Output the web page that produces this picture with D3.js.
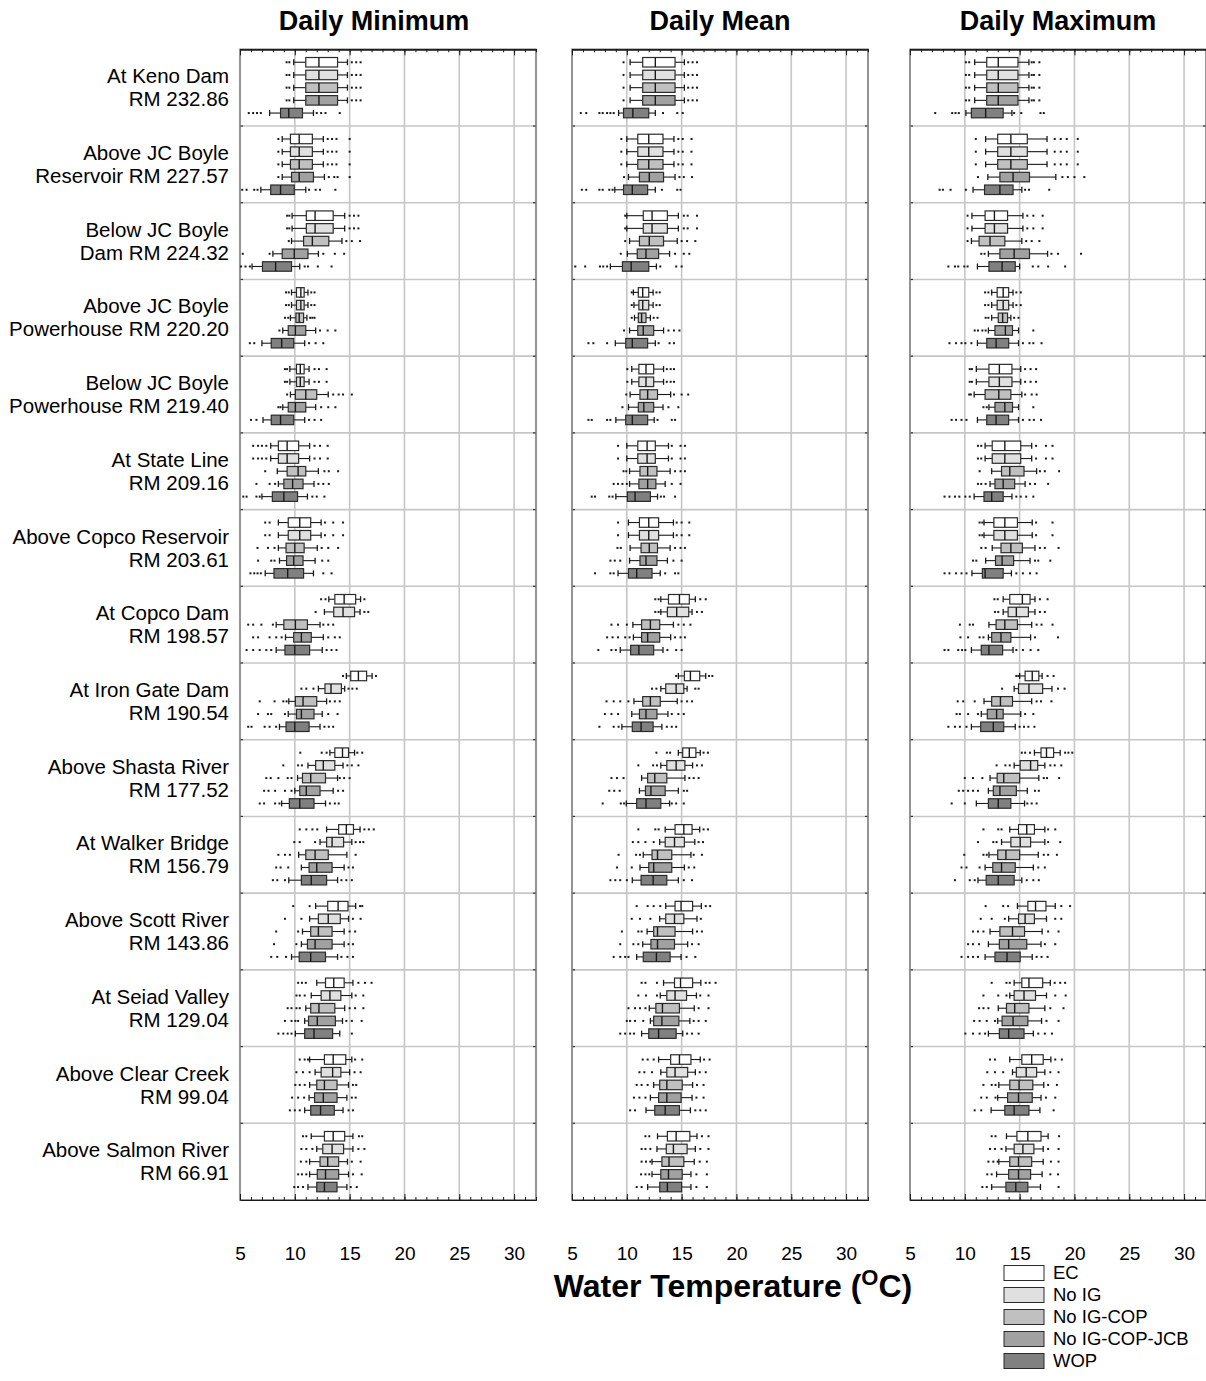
<!DOCTYPE html>
<html>
<head>
<meta charset="utf-8">
<script src="https://cdn.jsdelivr.net/npm/d3@7"></script>
<style>
  body { margin: 0; background: #fff; }
  text { font-family: "Liberation Sans", Arial, sans-serif; fill: #000; }
</style>
</head>
<body>
<svg id="chart" width="1206" height="1381"></svg>
<script>
// Stations (upstream to downstream), two label lines each
const stations = [
  ["At Keno Dam", "RM 232.86"],
  ["Above JC Boyle", "Reservoir RM 227.57"],
  ["Below JC Boyle", "Dam RM 224.32"],
  ["Above JC Boyle", "Powerhouse RM 220.20"],
  ["Below JC Boyle", "Powerhouse RM 219.40"],
  ["At State Line", "RM 209.16"],
  ["Above Copco Reservoir", "RM 203.61"],
  ["At Copco Dam", "RM 198.57"],
  ["At Iron Gate Dam", "RM 190.54"],
  ["Above Shasta River", "RM 177.52"],
  ["At Walker Bridge", "RM 156.79"],
  ["Above Scott River", "RM 143.86"],
  ["At Seiad Valley", "RM 129.04"],
  ["Above Clear Creek", "RM 99.04"],
  ["Above Salmon River", "RM 66.91"]
];
const scenarios = ["EC", "No IG", "No IG-COP", "No IG-COP-JCB", "WOP"];
const scenarioFills = ["#ffffff", "#e0e0e0", "#c0c0c0", "#a1a1a1", "#808080"];
const panelTitles = ["Daily Minimum", "Daily Mean", "Daily Maximum"];
const xTicks = [5, 10, 15, 20, 25, 30];
const xDomain = [5, 32];

// Each box: [lower whisker, Q1, median, Q3, upper whisker, [low outliers], [high outliers]]  (deg C)
const dailyMin = [
  [[9.9,11.0,12.2,13.9,14.8,[9.25,9.5],[15.2,15.6,16.0]],
   [9.9,11.0,12.2,13.9,14.8,[9.25,9.5],[15.2,15.6,16.0]],
   [9.9,11.0,12.2,13.9,14.8,[9.25,9.5],[15.2,15.6,16.0]],
   [9.9,11.0,12.2,13.9,14.8,[9.25,9.5],[15.2,15.6,16.0]],
   [7.7,8.7,9.45,10.7,11.7,[5.8,6.2,6.55,6.9],[12.0,12.4,12.8,14.1]]],
  [[8.85,9.6,10.4,11.6,12.6,[8.5],[13.0,13.4,13.8,15.0]],
   [8.85,9.6,10.4,11.6,12.6,[8.5],[13.0,13.4,13.8,15.0]],
   [8.85,9.6,10.4,11.6,12.6,[8.5],[13.0,13.4,13.8,15.0]],
   [8.85,9.7,10.4,11.7,12.7,[8.5],[13.1,13.6,13.9,15.0]],
   [6.9,7.8,8.7,9.95,11.0,[5.2,5.6,6.3,6.6],[11.3,11.9,12.3,13.7]]],
  [[9.75,11.05,11.85,13.5,14.55,[9.3,9.5],[15.0,15.4,15.8]],
   [9.75,11.05,11.85,13.5,14.55,[9.3,9.5],[15.0,15.4,15.8]],
   [9.7,10.8,11.6,13.1,14.3,[9.45],[14.7,15.2,15.95]],
   [8.0,8.85,9.95,11.2,12.15,[5.25,7.7],[12.6,13.65,14.5]],
   [6.1,7.05,8.25,9.7,10.45,[5.1,5.5,5.9],[10.9,11.2,12.1,13.35]]],
  [[9.7,10.15,10.55,10.85,11.2,[9.2,9.45],[11.5,11.8]],
   [9.7,10.15,10.55,10.85,11.2,[9.2,9.45],[11.5,11.8]],
   [9.6,10.1,10.4,10.8,11.1,[9.1,9.4],[11.4,11.6,11.8]],
   [8.9,9.4,10.05,11.0,11.9,[8.6],[12.3,13.0,13.7]],
   [7.0,7.85,8.8,9.9,10.9,[5.9,6.3],[11.3,11.9,12.6]]],
  [[9.55,10.15,10.5,10.85,11.3,[9.1,9.3],[11.8,12.2,12.9]],
   [9.55,10.15,10.5,10.85,11.3,[9.1,9.3],[11.8,12.2,12.9]],
   [9.6,10.05,11.0,12.0,13.05,[9.3],[13.5,14.0,14.4,15.2]],
   [8.9,9.4,10.05,11.0,11.9,[8.5,8.7],[12.4,13.05,13.7]],
   [7.1,7.85,8.7,9.9,10.9,[6.0,6.5],[11.3,11.8,12.4]]],
  [[7.8,8.5,9.3,10.35,11.35,[6.2,6.65,7.0,7.4],[11.8,12.3,13.0]],
   [7.8,8.5,9.3,10.35,11.35,[6.2,6.65,7.0,7.4],[11.8,12.3,13.0]],
   [8.4,9.3,10.3,11.0,12.15,[7.3],[12.7,13.1,13.95]],
   [8.5,9.0,9.8,10.75,11.75,[6.5,7.7,8.2],[12.15,12.6,13.1]],
   [7.0,7.95,9.0,10.25,11.15,[5.3,5.6,6.5,6.8],[11.6,12.0,12.7]]],
  [[8.5,9.4,10.45,11.45,12.4,[7.3,7.7],[12.75,13.5,14.4]],
   [8.5,9.4,10.45,11.45,12.4,[7.3,7.7],[12.75,13.5,14.4]],
   [8.5,9.2,10.0,10.85,12.05,[6.6,7.55,8.15],[12.45,13.05,13.95]],
   [8.6,9.25,9.9,10.75,11.85,[6.65,7.85,8.15],[12.5,13.05]],
   [7.3,8.1,9.35,10.8,11.7,[5.95,6.3,6.6,6.9],[12.6,13.35]]],
  [[13.1,13.65,14.5,15.55,16.0,[12.4,12.8],[16.35]],
   [12.7,13.55,14.4,15.45,15.95,[11.9],[16.35,16.7]],
   [8.3,9.0,10.05,11.15,12.3,[5.75,6.2,6.95,8.0],[12.6,13.05,13.5]],
   [9.15,9.9,10.6,11.5,12.6,[6.2,6.65,7.7,8.3,8.8],[13.05,13.65,14.1]],
   [8.3,9.1,10.0,11.35,12.5,[5.6,6.2,6.8,7.4,7.85],[12.9,13.35,13.8]]],
  [[14.7,15.1,15.8,16.55,17.05,[14.4],[17.4]],
   [12.15,12.75,13.3,14.25,14.55,[10.6,11.05,11.7],[14.9,15.25,15.65]],
   [9.45,10.05,10.75,12.0,12.9,[6.8,8.15,8.95,9.25],[13.2,13.65,14.1]],
   [9.4,10.15,10.6,11.75,12.5,[6.65,7.55,7.85,9.1],[13.05,13.9]],
   [8.6,9.2,10.0,11.3,12.3,[5.75,6.05,7.25,7.7,8.3],[12.7,13.1,13.5]]],
  [[13.2,13.65,14.35,14.9,15.45,[10.5,12.45,12.9],[15.7,16.15]],
   [11.2,11.9,12.6,13.65,14.4,[8.95,10.3,10.65],[14.8,15.2,15.8]],
   [10.25,10.7,11.45,12.8,13.9,[7.4,7.8,8.5,9.35,9.7],[14.1,14.5,15.0]],
   [10.0,10.45,11.05,12.3,13.5,[7.2,7.6,8.2,9.1,9.7],[13.95,14.4]],
   [8.8,9.5,10.45,11.75,12.8,[6.8,7.2,8.2,8.6],[13.2,13.65,14.0]]],
  [[12.9,14.0,14.7,15.35,15.95,[10.45,11.05,11.6,12.05],[16.35,16.75,17.2]],
   [12.3,12.9,13.4,14.45,15.2,[9.95,10.45,11.85],[15.55,15.95,16.25]],
   [10.35,11.0,11.85,13.05,14.75,[8.5,9.1,9.55],[15.55]],
   [10.6,11.3,12.0,13.4,14.5,[8.3,8.7,9.4],[14.9,15.3]],
   [9.45,10.6,11.5,12.9,13.9,[8.0,8.4,9.1],[14.25,14.7,15.2]]],
  [[11.9,13.0,13.95,14.85,15.55,[9.85,11.35],[15.95,16.15]],
   [11.35,12.15,13.05,14.15,14.9,[9.1,10.6],[15.3,16.0]],
   [10.7,11.45,12.15,13.4,14.5,[8.3,10.3],[15.0,15.5]],
   [10.6,11.15,11.85,13.4,14.5,[8.1,10.15],[14.9,15.3]],
   [9.7,10.4,11.45,12.8,13.9,[7.85,8.4,9.2],[14.25,14.8,15.3]]],
  [[12.0,12.8,13.55,14.5,15.3,[10.3,10.65,11.0],[15.8,16.4,17.0]],
   [11.5,12.4,13.2,14.2,15.2,[10.15,10.45,10.9],[15.55,16.25]],
   [11.0,11.45,12.2,13.65,14.55,[9.35,9.7,10.15,10.45],[15.0,15.5,16.25]],
   [10.9,11.25,12.05,13.7,14.35,[9.1,9.7,10.05,10.3],[14.7,15.2,16.1]],
   [10.05,10.9,11.75,13.45,14.1,[8.5,8.95,9.35,9.7],[15.2]]],
  [[11.35,12.7,13.5,14.65,15.2,[10.45,10.9,11.2],[15.5,16.15]],
   [11.85,12.4,13.45,14.2,15.0,[10.15,10.75,11.35],[15.45,16.0]],
   [11.35,12.0,12.7,13.85,14.9,[10.05,10.45,10.9],[15.3,15.6]],
   [11.3,11.8,12.6,13.85,14.75,[9.75,10.3,10.85],[15.2,15.55]],
   [10.9,11.45,12.35,13.6,14.4,[9.55,10.0,10.45],[14.9,15.3]]],
  [[11.5,12.7,13.5,14.55,15.3,[10.75,11.05],[15.85,16.15]],
   [12.0,12.55,13.4,14.45,15.3,[10.6,11.05,11.6],[15.8,16.35]],
   [11.35,12.3,13.0,14.0,14.8,[10.55,11.05],[15.2,16.0]],
   [11.35,12.05,12.8,14.0,14.9,[10.3,10.65,11.05],[15.3,16.1]],
   [11.2,12.0,12.7,13.85,14.75,[9.95,10.3,10.75],[15.1,15.65]]]
];

const dailyMean = [
  [[10.3,11.45,12.6,14.4,15.25,[9.7],[15.6,16.0,16.4]],
   [10.3,11.45,12.6,14.4,15.25,[9.7],[15.6,16.0,16.4]],
   [10.3,11.45,12.6,14.4,15.25,[9.7],[15.6,16.0,16.4]],
   [10.3,11.45,12.6,14.4,15.25,[9.7],[15.6,16.0,16.4]],
   [9.25,9.7,10.55,12.0,12.6,[5.8,6.3,7.5,7.8,8.2,8.5,8.8],[13.3,14.6,15.1]]],
  [[10.0,11.0,12.0,13.3,14.3,[9.5],[14.7,15.1,15.9]],
   [10.0,11.0,12.0,13.3,14.3,[9.5],[14.7,15.1,15.9]],
   [10.0,11.0,12.0,13.3,14.3,[9.5],[14.7,15.1,15.9]],
   [10.15,11.15,12.05,13.35,14.4,[9.75],[14.8,15.2,15.95]],
   [8.9,9.7,10.5,11.9,12.6,[5.9,6.3,7.5,7.8,8.4,8.7],[13.2,14.6,14.9]]],
  [[10.0,11.5,12.3,13.7,14.7,[9.85],[15.2,15.55,16.4]],
   [10.0,11.5,12.3,13.7,14.7,[9.85],[15.2,15.55,16.4]],
   [10.25,11.15,12.05,13.35,14.6,[9.85],[15.0,15.5,16.25]],
   [10.05,10.95,11.75,12.9,13.9,[9.45],[14.4,15.2,15.7]],
   [8.5,9.6,10.4,12.0,12.7,[5.3,6.2,7.55,7.85,8.2],[13.05,14.5,15.0]]],
  [[10.6,11.05,11.45,12.0,12.4,[10.45],[12.7,13.0]],
   [10.65,11.1,11.45,12.0,12.4,[10.45],[12.7,13.0]],
   [10.7,11.05,11.35,11.75,12.15,[10.45],[12.45,12.8]],
   [10.25,11.0,11.5,12.45,13.35,[9.75],[13.8,14.3,14.8]],
   [8.95,9.9,10.5,11.9,12.6,[6.5,6.95,8.2],[12.9,13.9,14.3]]],
  [[10.45,11.1,11.75,12.45,13.35,[10.05],[13.65,14.0,14.3]],
   [10.45,11.1,11.75,12.45,13.35,[10.05],[13.65,14.0,14.3]],
   [10.3,11.2,11.9,12.8,14.0,[9.95],[14.3,15.0,15.6]],
   [10.15,11.05,11.55,12.45,13.3,[9.6],[13.8,14.7]],
   [9.0,9.9,10.5,11.9,12.5,[6.5,6.8,8.2,8.5],[12.8,14.1,14.4]]],
  [[10.0,11.0,11.85,12.6,13.8,[9.2],[14.1,14.9,15.3]],
   [10.0,11.0,11.85,12.6,13.8,[9.2],[14.1,14.9,15.3]],
   [10.25,11.2,11.9,12.75,13.95,[9.7,9.95],[14.4,14.9,15.3]],
   [10.25,11.1,11.9,12.65,13.5,[8.8,9.2,9.6,10.0],[14.1,14.9]],
   [9.0,10.05,10.75,12.15,12.8,[6.8,7.1,8.4,8.7],[13.1,13.4,14.4]]],
  [[10.15,11.15,12.0,12.9,14.25,[9.2],[14.55,15.0,15.7]],
   [10.15,11.15,12.0,12.9,14.25,[9.2],[14.55,15.0,15.7]],
   [10.3,11.3,12.05,12.8,13.95,[9.15,9.45],[14.4,14.9,15.3]],
   [10.25,11.2,11.75,12.75,13.7,[8.5,8.9,9.4],[14.25,15.0]],
   [9.2,10.15,10.9,12.3,13.05,[7.1,8.5,8.8],[13.5,14.4,14.7]]],
  [[13.1,13.8,14.8,15.7,16.25,[12.6,12.9],[16.7,17.2]],
   [13.1,13.7,14.55,15.65,15.95,[12.6,12.9],[16.4,16.85]],
   [10.55,11.35,12.15,13.0,14.25,[8.6,9.2,10.0],[14.7,15.2,15.8]],
   [10.6,11.35,11.9,13.0,14.0,[8.2,8.7,9.2,9.85,10.25],[14.4,14.9,15.3]],
   [9.4,10.35,11.1,12.45,13.3,[7.4,8.6,9.0],[13.7,14.5,15.0]]],
  [[14.7,15.25,15.8,16.65,17.2,[14.5],[17.5,17.8]],
   [13.1,13.55,14.5,15.2,15.5,[12.3,12.7],[16.25,16.55]],
   [10.65,11.45,12.15,13.05,14.6,[8.15,8.8,9.4,10.15],[15.0,15.5,15.95]],
   [10.45,11.15,11.75,12.75,13.75,[8.0,8.6,9.2],[14.1,14.7,15.2]],
   [9.55,10.5,11.3,12.4,13.2,[7.5,8.8,9.25],[13.65,14.1,14.5]]],
  [[14.7,15.1,15.7,16.3,16.7,[12.7,13.65,13.95],[17.0,17.4]],
   [13.1,13.65,14.5,15.3,16.0,[11.05,12.4,12.75],[16.4,16.85]],
   [11.35,11.9,12.55,13.65,15.3,[8.6,9.1,9.7],[15.7,16.1,16.55]],
   [11.15,11.7,12.2,13.5,14.7,[8.4,8.85,9.35],[15.2,15.5]],
   [9.95,10.9,11.75,13.1,13.9,[7.8,9.45,9.75],[14.1,14.5,15.2]]],
  [[13.5,14.4,15.2,15.95,16.65,[11.05,12.6,12.9],[17.0,17.4]],
   [13.0,13.5,14.35,15.25,16.2,[10.55,11.05,11.7,12.45],[16.55,16.95]],
   [11.5,12.3,12.8,14.1,15.85,[9.25,10.85,11.2],[16.1,16.85]],
   [11.2,12.0,12.45,14.1,15.25,[9.1,10.45],[15.65,16.15]],
   [10.5,11.3,12.4,13.65,14.7,[8.5,8.95,9.4,10.0],[15.2,15.95]]],
  [[13.55,14.4,14.95,16.0,16.8,[10.9,11.9,12.45,13.05],[17.2,17.6]],
   [13.0,13.55,14.35,15.2,16.4,[10.45,11.2,12.15],[16.75]],
   [11.85,12.45,12.8,14.4,16.0,[9.55,11.05,11.35],[16.4,16.85]],
   [11.45,12.2,12.8,14.35,15.55,[9.4,10.6,11.05],[15.95,16.55]],
   [10.9,11.5,12.7,13.95,14.95,[8.8,9.4,9.85,10.15],[15.45,16.25]]],
  [[13.35,14.35,14.9,16.0,16.75,[11.35,11.7,12.75],[17.2,17.55,18.1]],
   [13.05,13.65,14.4,15.45,16.35,[11.05,11.75,12.75],[16.7,17.45]],
   [12.05,12.65,13.25,14.8,16.15,[10.15,10.75,11.2,11.7],[16.55,17.45]],
   [12.15,12.45,13.2,14.75,15.75,[10.0,10.3,10.75,11.5],[16.1,16.55,17.2]],
   [11.35,12.0,12.9,14.5,15.1,[9.4,9.85,10.3,10.65],[15.5,15.95,16.55]]],
  [[12.9,14.0,14.8,15.85,16.7,[11.45,11.9,12.45],[17.05,17.55]],
   [13.1,13.65,14.4,15.55,16.25,[11.15,11.6,12.3],[16.65,17.2]],
   [12.45,13.0,13.65,15.05,16.0,[10.9,11.35,11.9],[16.4,17.0]],
   [12.15,12.9,13.65,14.95,15.95,[10.65,11.15,11.7],[16.35,17.0]],
   [11.75,12.55,13.5,14.8,15.8,[10.3,10.75],[16.25,16.7,17.2]]],
  [[12.8,13.7,14.5,15.75,16.4,[11.7,12.05],[16.85,17.45]],
   [12.75,13.6,14.25,15.5,16.25,[11.35,11.7,12.15],[16.7,17.45]],
   [12.3,13.2,13.85,15.2,16.15,[11.35,11.75,12.15],[16.65,17.3]],
   [12.3,13.1,13.8,15.05,15.85,[11.3,11.7,12.05],[16.35,17.3]],
   [11.9,13.0,13.7,15.0,15.85,[10.9,11.35],[16.35,17.3]]]
];

const dailyMax = [
  [[10.9,12.0,13.05,14.85,15.85,[10.1,10.4],[16.1,16.3,16.8]],
   [10.9,12.0,13.05,14.85,15.85,[10.1,10.4],[16.1,16.3,16.8]],
   [10.9,12.0,13.05,14.85,15.85,[10.1,10.4],[16.1,16.3,16.8]],
   [10.9,12.0,13.05,14.85,15.85,[10.1,10.4],[16.1,16.3,16.8]],
   [10.1,10.6,11.9,13.5,14.3,[7.3,8.85,9.15,9.45],[14.5,15.15,16.9,17.2]]],
  [[11.9,13.0,14.2,15.7,17.5,[11.0],[18.2,18.75,19.3,20.3]],
   [11.9,13.0,14.2,15.7,17.5,[11.0],[18.2,18.75,19.3,20.3]],
   [11.9,13.0,14.2,15.7,17.5,[11.0],[18.2,18.75,19.3,20.3]],
   [12.1,13.2,14.4,15.9,18.3,[11.2],[18.9,19.4,20.0,20.9]],
   [10.75,11.8,13.2,14.4,15.2,[7.7,8.0,8.7,10.1],[15.5,15.85,17.7]]],
  [[10.65,11.85,12.7,13.9,15.3,[10.25],[15.7,16.25,17.1]],
   [10.65,11.85,12.7,13.9,15.3,[10.25],[15.7,16.25,17.1]],
   [10.6,11.3,12.3,13.65,15.2,[10.25],[15.6,16.1,16.8]],
   [12.15,13.2,14.5,15.9,17.55,[11.5,11.8],[17.9,18.5,20.6]],
   [11.15,12.2,13.4,14.6,15.0,[8.5,9.1,9.4,9.95,10.25],[16.2,16.7,17.6,19.15]]],
  [[12.45,12.95,13.5,14.0,14.4,[11.85,12.15],[14.7,15.1]],
   [12.45,12.95,13.5,14.0,14.4,[11.85,12.15],[14.7,15.1]],
   [12.45,13.05,13.45,13.9,14.2,[11.9,12.15],[14.5,14.9]],
   [12.15,12.75,13.7,14.35,14.9,[10.9,11.2,11.6,11.9],[16.25]],
   [11.15,12.0,12.85,14.0,14.9,[8.6,9.2,9.7,10.05,10.6],[15.3,15.9,16.25,17.0]]],
  [[11.05,12.2,13.15,14.3,15.1,[10.45,10.65],[15.5,16.0,16.5]],
   [11.05,12.2,13.15,14.3,15.1,[10.45,10.65],[15.5,16.0,16.5]],
   [10.85,11.85,13.1,14.2,15.2,[10.4,10.55],[15.5,16.1,16.55]],
   [12.2,12.75,13.65,14.35,14.9,[11.7,12.0],[16.25]],
   [11.15,12.0,12.85,14.0,14.9,[8.8,9.2,9.7,10.15],[15.3,15.9,16.3,16.95]]],
  [[11.85,12.5,13.65,15.1,16.1,[11.2,11.5],[16.5,17.4,18.0]],
   [11.85,12.5,13.65,15.1,16.1,[11.2,11.5],[16.5,17.4,18.0]],
   [12.45,13.35,14.1,15.4,16.55,[11.35],[16.85,17.3,18.6]],
   [12.3,12.75,13.5,14.55,15.5,[11.2,11.5,11.9],[15.95,16.4,17.6]],
   [10.85,11.75,12.45,13.5,14.3,[8.15,8.6,9.1,9.5,10.05,10.45],[14.7,15.1,15.6,16.25]]],
  [[11.75,12.65,13.65,14.8,16.15,[11.35,11.6],[16.5,18.0]],
   [11.75,12.65,13.65,14.8,16.15,[11.35,11.6],[16.5,18.0]],
   [12.5,13.3,14.2,15.25,16.4,[11.5,11.9],[16.85,17.3,18.55]],
   [11.9,12.8,13.4,14.45,15.95,[10.75,11.05],[16.4,16.7,17.8]],
   [10.65,11.6,11.85,13.5,14.25,[8.15,8.6,9.2,9.7,10.15],[14.7,15.3,15.95,16.55]]],
  [[13.5,14.1,15.25,15.95,16.4,[12.7,13.0],[16.85,17.55]],
   [13.5,13.95,14.7,15.8,16.4,[12.75,13.05],[16.85,17.3]],
   [12.2,12.85,13.65,14.8,16.1,[9.55,10.45,10.75],[16.55,17.0,18.0]],
   [12.15,12.45,13.3,14.2,16.0,[9.6,10.3,11.35,11.7],[16.4,18.5]],
   [10.6,11.5,12.2,13.45,14.4,[8.15,8.5,9.4,9.75,10.05],[14.7,15.3,16.0,16.7]]],
  [[15.0,15.5,16.15,16.75,17.05,[14.7,14.9],[17.55,18.1]],
   [14.5,14.9,15.85,17.1,17.95,[13.4],[18.5,19.1]],
   [11.75,12.45,13.25,14.35,16.1,[9.35,9.85,10.9],[16.55,16.95,17.9]],
   [11.5,12.05,12.9,13.5,15.1,[9.25,9.55,10.3,11.2],[15.5,16.25]],
   [10.6,11.45,12.6,13.55,14.6,[8.5,9.1,9.55,10.15],[15.0,15.4,15.8,16.35]]],
  [[16.35,16.95,17.45,18.1,18.7,[15.2,15.5,15.95],[19.15,19.45,19.8]],
   [14.5,15.05,16.0,16.65,17.3,[12.9,13.7,14.1],[17.8,18.2,18.8]],
   [12.3,12.95,13.55,15.0,16.75,[10.0,10.75,11.6],[17.2,17.5,18.6]],
   [12.15,12.6,13.2,14.7,15.7,[9.45,9.85,10.3,10.75,11.2],[16.4,16.75]],
   [11.05,12.15,13.05,14.2,15.45,[8.8,10.0],[15.7,16.1,16.55]]],
  [[14.1,14.9,15.65,16.35,17.3,[11.7,13.05,13.35],[17.6,18.25]],
   [13.35,14.2,15.05,16.0,17.3,[11.2,12.6,12.9],[17.6,18.7]],
   [12.2,13.0,13.75,15.0,16.7,[9.95,11.7,12.0],[17.2,17.6,18.4]],
   [11.85,12.55,13.35,14.6,16.25,[9.7,10.15,11.35],[16.7,17.3]],
   [11.2,11.95,13.05,14.5,15.2,[9.1,10.45,10.9],[15.65,16.25,16.75]]],
  [[14.8,15.75,16.45,17.4,18.25,[11.9,13.5,13.95],[18.8,19.6]],
   [14.0,14.9,15.5,16.35,17.45,[11.45,12.45,13.65],[18.25,18.8]],
   [12.3,13.2,14.35,15.45,17.05,[10.75,11.2,11.7],[17.6,18.55]],
   [12.15,13.15,14.0,15.65,16.95,[10.3,10.75,11.3],[17.3,18.25]],
   [11.85,12.75,13.85,15.05,16.15,[9.7,10.3,10.75,11.2],[16.55,17.0,17.55]]],
  [[14.5,15.2,15.85,17.1,17.8,[12.45,13.8,14.1],[18.2,18.7,19.15]],
   [14.1,14.5,15.4,16.45,17.45,[11.7,13.05,13.8],[18.25,19.2]],
   [13.05,13.8,14.55,15.85,17.3,[11.3,11.7,12.15],[17.8,19.0]],
   [13.0,13.4,14.4,15.75,17.0,[10.85,11.35,12.0,12.75],[17.45,18.55]],
   [12.15,13.15,14.0,15.4,16.25,[10.05,10.75,11.35,11.85],[16.7,17.3,17.95]]],
  [[14.1,15.2,16.1,17.15,17.85,[12.3,12.75],[18.25,18.85]],
   [14.35,14.7,15.6,16.55,17.3,[12.05,12.75,13.5],[17.8,18.55]],
   [13.1,14.1,14.95,16.2,17.2,[11.7,12.45,12.8],[17.6,18.4]],
   [13.0,13.9,14.9,16.15,16.95,[11.5,12.0,12.8],[17.4,18.25]],
   [12.4,13.65,14.5,15.85,16.85,[10.9,11.5],[18.1]]],
  [[13.8,14.75,15.75,16.95,17.6,[12.45,12.8],[18.6]],
   [13.75,14.5,15.3,16.3,17.15,[12.3,12.75,13.35],[17.6,18.55]],
   [13.1,14.1,14.9,16.1,17.15,[12.15,12.6,13.0],[17.85,18.55]],
   [12.9,14.0,14.9,16.0,17.05,[12.05,12.45],[17.8,18.5]],
   [12.45,13.75,14.65,15.75,16.9,[11.6,12.0],[18.55]]]
];

const panels = [dailyMin, dailyMean, dailyMax];

// ---- layout ----
const svg = d3.select("#chart");
const plotTop = 49.3, plotBottom = 1200;
const panelLeft = [240, 572, 910];
const panelWidth = 296;
const titleShift = [-14, 0, 0];
const boxH = 9.5, capH = 6;

const yRow = d3.scaleBand().domain(d3.range(stations.length)).range([plotTop, plotBottom]);
const yBox = d3.scalePoint().domain(d3.range(scenarios.length)).range([-25.4, 25.4]);
const rowCenter = i => yRow(i) + yRow.bandwidth() / 2;

const gridColor = "#c6c6c6";
const ink = "#1a1a1a";

panels.forEach((data, p) => {
  const L = panelLeft[p];
  const x = d3.scaleLinear().domain(xDomain).range([L, L + panelWidth]);
  const g = svg.append("g");

  // vertical grid
  g.selectAll("line.vgrid").data(xTicks.filter(t => t > xDomain[0]))
    .join("line")
    .attr("x1", d => x(d)).attr("x2", d => x(d))
    .attr("y1", plotTop).attr("y2", plotBottom)
    .attr("stroke", gridColor).attr("stroke-width", 1.6);

  // row separators
  const seps = d3.range(1, stations.length);
  g.selectAll("line.hgrid").data(seps).join("line")
    .attr("x1", L).attr("x2", L + panelWidth)
    .attr("y1", d => yRow(d)).attr("y2", d => yRow(d))
    .attr("stroke", gridColor).attr("stroke-width", 1.6);
  g.selectAll("line.lt").data(seps).join("line")
    .attr("x1", L).attr("x2", L + 3)
    .attr("y1", d => yRow(d)).attr("y2", d => yRow(d))
    .attr("stroke", "#333").attr("stroke-width", 1.2);
  g.selectAll("line.rt").data(seps).join("line")
    .attr("x1", L + panelWidth - 3).attr("x2", L + panelWidth)
    .attr("y1", d => yRow(d)).attr("y2", d => yRow(d))
    .attr("stroke", "#333").attr("stroke-width", 1.2);

  // frame
  g.append("rect")
    .attr("x", L).attr("y", plotTop)
    .attr("width", panelWidth).attr("height", plotBottom - plotTop)
    .attr("fill", "none").attr("stroke", "#7a7a7a").attr("stroke-width", 1.6);

  // top axis (inward ticks)
  const minor = d3.range(xDomain[0], xDomain[1] + 1);
  const topMinor = d3.axisBottom(x).tickValues(minor).tickSize(3).tickFormat("").tickSizeOuter(0);
  const topMajor = d3.axisBottom(x).tickValues(xTicks).tickSize(6).tickFormat("").tickSizeOuter(0);
  [topMinor, topMajor].forEach(ax => {
    const a = g.append("g").attr("transform", `translate(0,${plotTop})`).call(ax);
    a.select(".domain").attr("stroke", ink).attr("stroke-width", 1.2);
    a.selectAll(".tick line").attr("stroke", ink);
  });
  // bottom axis (inward ticks + labels)
  const botMinor = d3.axisTop(x).tickValues(minor).tickSize(3).tickFormat("").tickSizeOuter(0);
  const botMajor = d3.axisTop(x).tickValues(xTicks).tickSize(6).tickFormat("").tickSizeOuter(0);
  [botMinor, botMajor].forEach(ax => {
    const a = g.append("g").attr("transform", `translate(0,${plotBottom})`).call(ax);
    a.select(".domain").attr("stroke", ink).attr("stroke-width", 1.2);
    a.selectAll(".tick line").attr("stroke", ink);
  });
  const labels = d3.axisBottom(x).tickValues(xTicks).tickSize(0).tickPadding(0).tickFormat(d3.format("d"));
  const la = g.append("g").attr("transform", `translate(0,${plotBottom})`).call(labels);
  la.select(".domain").remove();
  la.selectAll(".tick text")
    .attr("y", 60).attr("dy", 0)
    .attr("font-size", 19).attr("fill", "#000")
    .style("font-family", '"Liberation Sans", Arial, sans-serif');

  // panel title
  g.append("text")
    .attr("x", L + panelWidth / 2 + titleShift[p]).attr("y", 30)
    .attr("text-anchor", "middle")
    .attr("font-size", 27).attr("font-weight", "bold")
    .text(panelTitles[p]);

  // boxes
  data.forEach((row, i) => {
    row.forEach((b, j) => {
      const [w0, q1, md, q3, w1, lo, hi] = b;
      const cy = rowCenter(i) + yBox(j);
      const bg = g.append("g");
      bg.append("line").attr("x1", x(w0)).attr("x2", x(q1)).attr("y1", cy).attr("y2", cy)
        .attr("stroke", ink).attr("stroke-width", 1.1);
      bg.append("line").attr("x1", x(q3)).attr("x2", x(w1)).attr("y1", cy).attr("y2", cy)
        .attr("stroke", ink).attr("stroke-width", 1.1);
      [w0, w1].forEach(v => bg.append("line")
        .attr("x1", x(v)).attr("x2", x(v)).attr("y1", cy - capH / 2).attr("y2", cy + capH / 2)
        .attr("stroke", ink).attr("stroke-width", 1.3));
      bg.append("rect")
        .attr("x", x(q1)).attr("y", cy - boxH / 2)
        .attr("width", x(q3) - x(q1)).attr("height", boxH)
        .attr("fill", scenarioFills[j]).attr("stroke", "#2a2a2a").attr("stroke-width", 1.2);
      bg.append("line").attr("x1", x(md)).attr("x2", x(md))
        .attr("y1", cy - boxH / 2).attr("y2", cy + boxH / 2)
        .attr("stroke", ink).attr("stroke-width", 1.4);
      bg.selectAll("rect.out").data(lo.concat(hi)).join("rect")
        .attr("x", d => x(d) - 1).attr("y", cy - 1)
        .attr("width", 2).attr("height", 2)
        .attr("fill", ink);
    });
  });
});

// station labels
const lab = svg.append("g");
stations.forEach((s, i) => {
  const c = rowCenter(i);
  s.forEach((line, k) => {
    lab.append("text")
      .attr("x", 229).attr("y", c + (k === 0 ? -11.5 : 11.5))
      .attr("dy", "0.35em")
      .attr("text-anchor", "end")
      .attr("font-size", 20.5)
      .text(line);
  });
});

// x-axis title
const xt = svg.append("text")
  .attr("x", 733).attr("y", 1297)
  .attr("text-anchor", "middle")
  .attr("font-size", 32).attr("font-weight", "bold");
xt.append("tspan").text("Water Temperature (");
xt.append("tspan").attr("dy", -12).attr("font-size", 22).text("O");
xt.append("tspan").attr("dy", 12).text("C)");

// legend
const leg = svg.append("g");
scenarios.forEach((s, j) => {
  const cy = 1273 + j * 22;
  leg.append("rect")
    .attr("x", 1004).attr("y", cy - 7.5).attr("width", 40).attr("height", 15)
    .attr("fill", scenarioFills[j]).attr("stroke", "#2a2a2a").attr("stroke-width", 1);
  leg.append("text")
    .attr("x", 1053).attr("y", cy).attr("dy", "0.35em")
    .attr("font-size", 18.5).text(s);
});
</script>
</body>
</html>
